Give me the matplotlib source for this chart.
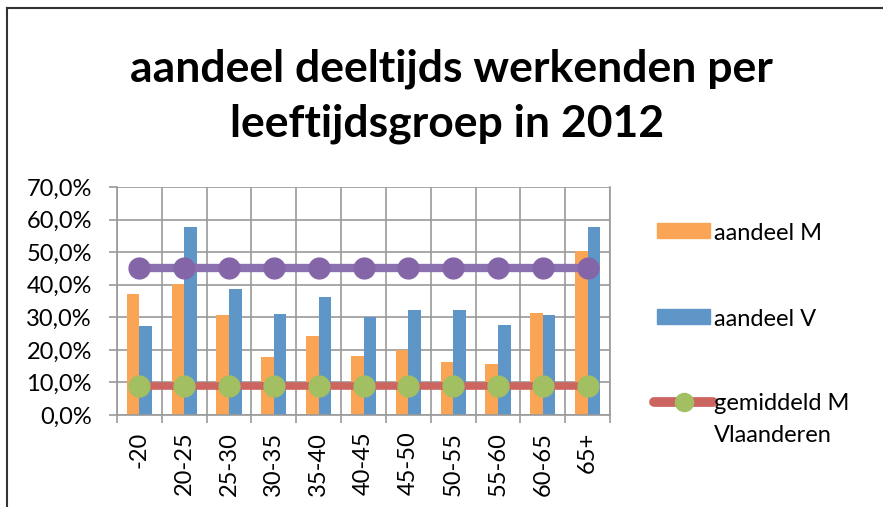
import matplotlib
matplotlib.use("Agg")
import matplotlib.pyplot as plt
from matplotlib.lines import Line2D
from matplotlib.patches import Rectangle
import numpy as np

categories = ["-20", "20-25", "25-30", "30-35", "35-40", "40-45", "45-50", "50-55", "55-60", "60-65", "65+"]
aandeel_m = [37.3, 40.2, 30.6, 17.8, 24.2, 18.2, 20.1, 16.3, 15.6, 31.3, 50.2]
aandeel_v = [27.3, 57.8, 38.6, 31.0, 36.1, 30.1, 32.1, 32.1, 27.5, 30.6, 57.8]
gemiddeld_m = [8.9] * 11
gemiddeld_v = [45.2] * 11
yticks = [0, 10, 20, 30, 40, 50, 60, 70]
title_lines = ["aandeel deeltijds werkenden per", "leeftijdsgroep in 2012"]
legend_labels = ["aandeel M", "aandeel V", "gemiddeld M", "Vlaanderen"]

ORANGE = "#F9A555"
BLUE = "#5F96C8"
PURPLE_LINE = "#8C71B0"
PURPLE_MK = "#8466A8"
RED = "#CC6560"
GREEN = "#A2BF62"
GRID = "#9a9a9a"
FONT = "Lato"
W, H = 883, 507

def fx(px):
    return px / W

def fy(py):
    return 1 - py / H

fig = plt.figure(figsize=(8.83, 5.07), dpi=100)
ax = fig.add_axes([fx(117), fy(415), (610 - 117) / W, (415 - 187) / H])

x = np.arange(len(categories))
w = 0.28
ax.bar(x - w/2, aandeel_m, width=w, color=ORANGE, zorder=2)
ax.bar(x + w/2, aandeel_v, width=w, color=BLUE, zorder=2)
ax.plot(x, gemiddeld_v, color=PURPLE_LINE, lw=6, solid_capstyle="butt", zorder=3,
        marker="o", ms=15, mfc=PURPLE_MK, mec=PURPLE_MK)
ax.plot(x, gemiddeld_m, color=RED, lw=5.5, solid_capstyle="butt", zorder=3,
        marker="o", ms=15, mfc=GREEN, mec=GREEN)

ax.set_xlim(-0.5, len(categories) - 0.5)
ax.set_ylim(0, 70)
ax.set_yticks(yticks)
ax.set_yticklabels([f"{v:.1f}%".replace(".", ",") for v in yticks], fontsize=17, family=FONT)
ax.set_xticks(x)
ax.set_xticklabels(categories, rotation=90, fontsize=17, family=FONT)
ax.tick_params(axis="x", length=0, pad=12)
ax.tick_params(axis="y", length=6, color=GRID, width=1.2, pad=12)
ax.set_xticks(np.arange(-0.5, len(categories)), minor=True)
ax.tick_params(axis="x", which="minor", length=6, color=GRID, width=1.2)
ax.grid(True, axis="y", color=GRID, lw=1.2, zorder=0)
ax.grid(True, axis="x", which="minor", color=GRID, lw=1.2, zorder=0)
for s in ax.spines.values():
    s.set_color(GRID)
    s.set_linewidth(1.2)
ax.spines["top"].set_visible(False)

fig.text(fx(451), fy(82), title_lines[0], ha="center", va="baseline",
         fontsize=32, fontweight="bold", family=FONT)
fig.text(fx(447), fy(137), title_lines[1], ha="center", va="baseline",
         fontsize=32, fontweight="bold", family=FONT)

# legend (manual, to match layout)
fig.add_artist(Rectangle((fx(657), fy(238)), 53 / W, 15 / H, color=ORANGE, transform=fig.transFigure))
fig.add_artist(Rectangle((fx(657), fy(324)), 53 / W, 15 / H, color=BLUE, transform=fig.transFigure))
fig.add_artist(Line2D([fx(654), fx(713)], [fy(402), fy(402)], color=RED, lw=7,
                      solid_capstyle="round", transform=fig.transFigure))
fig.add_artist(Line2D([fx(684)], [fy(402)], marker="o", ms=13, mfc=GREEN, mec=GREEN,
                      transform=fig.transFigure))
for lbl, yy in zip(legend_labels, [233, 320, 404, 436]):
    fig.text(fx(714), fy(yy), lbl, ha="left", va="center", fontsize=17, family=FONT)

fig.add_artist(Line2D([fx(7), fx(7)], [0, fy(8)], color="#333333", lw=1.5, transform=fig.transFigure))
fig.add_artist(Line2D([fx(7), fx(882)], [fy(8), fy(8)], color="#333333", lw=1.5, transform=fig.transFigure))

fig.savefig("out.png", dpi=100)
